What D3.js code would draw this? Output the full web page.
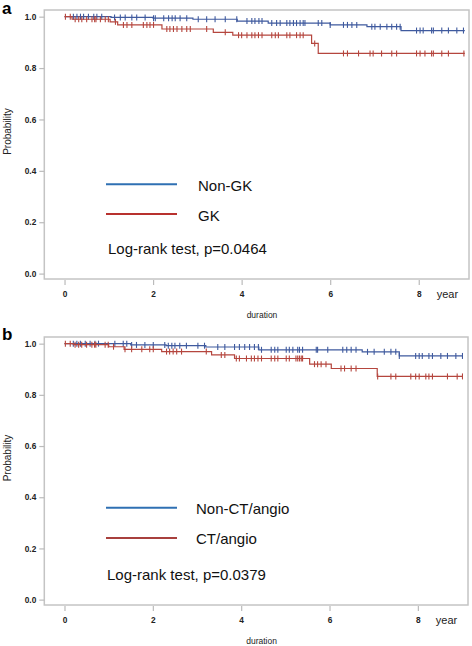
<!DOCTYPE html>
<html><head><meta charset="utf-8">
<script src="https://cdn.jsdelivr.net/npm/d3@7/dist/d3.min.js"></script>
<style>
html,body{margin:0;padding:0;background:#fff;}
svg{display:block;}
text{font-family:"Liberation Sans",Arial,sans-serif;}
</style></head>
<body>
<svg id="chart" width="472" height="646"></svg>
<script>
// ---------- data ----------
const xTicks = [0, 2, 4, 6, 8];
const yTicks = [0.0, 0.2, 0.4, 0.6, 0.8, 1.0];
const panelLabels = ["a", "b"];
const seriesNamesA = ["Non-GK", "GK"];
const seriesNamesB = ["Non-CT/angio", "CT/angio"];
const pTextA = "Log-rank test, p=0.0464";
const pTextB = "Log-rank test, p=0.0379";

// step curves: [time, survival]
const stepsA_non = [[0,1.0],[1.05,0.997],[2.0,0.994],[2.9,0.99],[3.9,0.983],[4.6,0.975],[6.0,0.968],[6.83,0.961],[7.6,0.946],[9.04,0.946]];
const stepsA_gk  = [[0,1.0],[0.17,0.99],[1.03,0.98],[1.2,0.968],[2.2,0.952],[3.36,0.939],[3.8,0.928],[5.58,0.896],[5.73,0.857],[9.04,0.857]];
const stepsB_non = [[0,1.0],[1.5,0.995],[2.3,0.992],[3.2,0.987],[4.4,0.976],[6.74,0.968],[7.58,0.952],[9.02,0.952]];
const stepsB_ct  = [[0,1.0],[0.2,0.996],[1.0,0.988],[1.35,0.978],[2.2,0.969],[3.33,0.956],[3.85,0.942],[5.55,0.92],[6.04,0.903],[7.08,0.872],[9.02,0.872]];

// censor times
const censA_non = [0.2,0.28,0.36,0.43,0.54,0.66,0.73,0.84,1.13,1.26,1.37,1.52,1.63,1.82,2.01,2.05,2.24,2.35,2.43,2.5,2.61,2.76,3.02,3.21,3.4,3.63,3.89,4.12,4.23,4.3,4.39,
  4.46,4.68,4.79,4.87,5.02,5.09,5.17,5.24,5.32,5.39,5.43,5.73,5.81,6.0,6.3,6.39,6.49,6.6,6.94,7.01,7.13,7.28,7.39,7.5,7.58,7.95,8.03,8.1,8.29,8.33,8.52,8.67,8.86,9.01];
const censA_gk = [0.02,0.13,0.24,0.32,0.39,0.5,0.62,0.68,0.71,0.81,0.92,0.99,1.15,1.33,1.41,1.52,1.78,1.86,1.93,2.01,2.31,2.38,2.46,2.54,2.65,2.76,2.84,3.21,3.63,3.93,4.0,4.12,4.23,4.3,4.38,4.46,
  4.68,4.76,4.83,5.02,5.09,5.24,5.32,5.39,5.65,6.3,6.39,6.64,6.9,6.97,7.16,7.39,7.5,7.95,8.03,8.14,8.29,8.33,8.52,8.67,9.02];
const censB_non = [0.2,0.28,0.36,0.47,0.58,0.69,0.77,1.14,1.33,1.41,1.52,1.63,1.82,2.01,2.27,2.35,2.43,2.5,2.61,2.76,3.02,3.17,3.47,3.63,3.85,3.96,4.08,4.19,4.3,4.39,
  4.46,4.68,4.76,4.83,5.02,5.09,5.17,5.28,5.32,5.39,5.7,5.73,5.96,6.3,6.39,6.49,6.6,6.86,7.01,7.24,7.39,7.5,7.58,7.95,8.03,8.1,8.25,8.33,8.52,8.67,8.86,9.01];
const censB_ct = [0.02,0.13,0.24,0.32,0.39,0.5,0.62,0.68,0.71,0.92,0.99,1.11,1.37,1.52,1.75,1.93,2.01,2.31,2.38,2.46,2.54,2.65,3.21,3.55,3.63,3.89,3.96,4.12,4.23,4.3,4.38,4.46,
  4.68,4.76,4.83,5.02,5.09,5.24,5.28,5.32,5.36,5.39,5.66,5.73,5.81,5.92,6.26,6.34,6.49,6.6,7.09,7.39,7.5,7.84,7.95,8.03,8.18,8.25,8.33,8.67,8.89,9.01];

const xDomain = [-0.457, 9.135];
const yDomain = [-0.021, 1.026];

// ---------- drawing ----------
const svg = d3.select("#chart");
const curveBlue = "#3f5a9e", curveRed = "#b5463e";
const legBlue = "#2f70b3", legRed = "#b8312e";

const panels = [
  {top:10, bottom:279, left:44.3, right:469, label:panelLabels[0], ly:14, names:seriesNamesA, ptext:pTextA,
   series:[{steps:stepsA_non, cens:censA_non, color:curveBlue},{steps:stepsA_gk, cens:censA_gk, color:curveRed}],
   leg:{y1:184.3, y2:214, t1:190.7, t2:220.7, pt:254.3, tx:198, px:108}, legRed:legRed},
  {top:337, bottom:605, left:44.3, right:468, label:panelLabels[1], ly:340, names:seriesNamesB, ptext:pTextB,
   series:[{steps:stepsB_non, cens:censB_non, color:curveBlue},{steps:stepsB_ct, cens:censB_ct, color:curveRed}],
   leg:{y1:507.7, y2:538, t1:513.5, t2:544, pt:580, tx:196, px:107}, legRed:"#a8403d"}
];

panels.forEach(p => {
  const x = d3.scaleLinear().domain(xDomain).range([p.left, p.right]);
  const y = d3.scaleLinear().domain(yDomain).range([p.bottom, p.top]);
  const g = svg.append("g");

  // panel letter
  g.append("text").attr("x", 2).attr("y", p.ly)
    .attr("font-size", 17).attr("font-weight", "bold").attr("fill", "#000").text(p.label);

  // frame
  g.append("rect").attr("x", p.left).attr("y", p.top)
    .attr("width", p.right - p.left).attr("height", p.bottom - p.top)
    .attr("fill", "none").attr("stroke", "#c4c4c4").attr("stroke-width", 1.5);

  // y axis
  const yAxis = d3.axisLeft(y).tickValues(yTicks).tickFormat(d3.format(".1f")).tickSize(5).tickPadding(3);
  const ya = g.append("g").attr("transform", `translate(${p.left},0)`).call(yAxis);
  ya.select(".domain").remove();
  ya.selectAll(".tick line").attr("stroke", "#bbb").attr("stroke-width", 1.2);
  ya.selectAll(".tick text").attr("font-family", '"Liberation Sans",Arial,sans-serif')
    .attr("font-size", 8.3).attr("fill", "#222").attr("font-weight", "bold");

  // x axis
  const xAxis = d3.axisBottom(x).tickValues(xTicks).tickFormat(d3.format("d")).tickSize(5).tickPadding(6);
  const xa = g.append("g").attr("transform", `translate(0,${p.bottom + 1})`).call(xAxis);
  xa.select(".domain").remove();
  xa.selectAll(".tick line").attr("stroke", "#bbb").attr("stroke-width", 1.2);
  xa.selectAll(".tick text").attr("font-family", '"Liberation Sans",Arial,sans-serif')
    .attr("font-size", 8.3).attr("fill", "#222").attr("font-weight", "bold");

  // axis titles
  const yMid = (p.top + p.bottom) / 2 - 13;
  g.append("text").attr("transform", `translate(11,${yMid}) rotate(-90)`)
    .attr("text-anchor", "middle").attr("font-size", 10).attr("fill", "#222").text("Probability");
  g.append("text").attr("x", x(4) + 5).attr("y", p.bottom + 39)
    .attr("font-size", 8.5).style("fill", "#1a1a1a").text("duration");
  g.append("text").attr("x", x(8) + 18).attr("y", p.bottom + 19)
    .attr("font-size", 11).attr("fill", "#222").text("year");

  // curves
  const line = d3.line().x(d => x(d[0])).y(d => y(d[1])).curve(d3.curveStepAfter);
  const bis = d3.bisector(d => d[0]).right;
  p.series.forEach(s => {
    g.append("path").datum(s.steps).attr("d", line)
      .attr("fill", "none").attr("stroke", s.color).attr("stroke-width", 1.2);
    g.selectAll(null).data(s.cens).enter().append("line")
      .attr("x1", d => x(d)).attr("x2", d => x(d))
      .attr("y1", d => y(s.steps[Math.max(0, bis(s.steps, d) - 1)][1]) - 3)
      .attr("y2", d => y(s.steps[Math.max(0, bis(s.steps, d) - 1)][1]) + 3)
      .attr("stroke", s.color).attr("stroke-width", 1.1);
  });

  // legend
  const L = p.leg;
  g.append("line").attr("x1", 106).attr("x2", 177).attr("y1", L.y1).attr("y2", L.y1)
    .attr("stroke", legBlue).attr("stroke-width", 2);
  g.append("line").attr("x1", 106).attr("x2", 177).attr("y1", L.y2).attr("y2", L.y2)
    .attr("stroke", p.legRed).attr("stroke-width", 2);
  g.append("text").attr("x", L.tx).attr("y", L.t1).attr("font-size", 15).attr("fill", "#111").text(p.names[0]);
  g.append("text").attr("x", L.tx).attr("y", L.t2).attr("font-size", 15).attr("fill", "#111").text(p.names[1]);
  g.append("text").attr("x", L.px).attr("y", L.pt).attr("font-size", 15).attr("fill", "#111").text(p.ptext);
});
</script>
</body></html>
